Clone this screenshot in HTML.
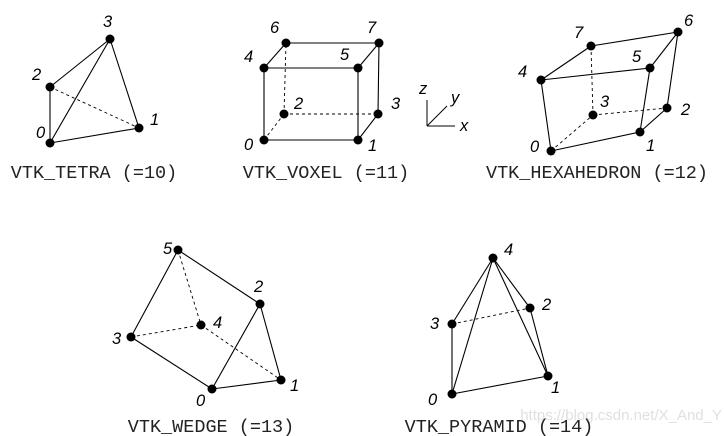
<!DOCTYPE html>
<html><head><meta charset="utf-8"><style>
html,body{margin:0;padding:0;background:#fff;}
svg{display:block;}
.lbl{font-family:"Liberation Sans",sans-serif;font-style:italic;font-size:16.5px;fill:#000;}
.cap{font-family:"Liberation Mono",monospace;font-size:18.5px;fill:#222;}
</style></head><body>
<svg id="s" width="725" height="436" viewBox="0 0 725 436" xmlns="http://www.w3.org/2000/svg">
<g id="axes" stroke="#000" stroke-width="1">
<line x1="427" y1="126" x2="427" y2="100"/><line x1="427" y1="126" x2="447" y2="106"/><line x1="427" y1="126" x2="455" y2="126"/>
</g>
<text class="lbl" x="419" y="94">z</text>
<text class="lbl" x="451" y="103">y</text>
<text class="lbl" x="460" y="131">x</text>
<text x="722" y="420" text-anchor="end" font-family="Liberation Sans,sans-serif" font-size="15" fill="#e0e0e0">https://blog.csdn.net/X_And_Y</text>
</svg>
<script>
const cells=[
 {name:'tetra',cap:'VTK_TETRA (=10)',cx:94,cy:178,
  pts:[[50,143],[139,128],[50,87],[110,39]],
  lab:[[36,138],[150,125],[32,80],[103,27]],
  solid:[[0,1],[0,2],[0,3],[1,3],[2,3]],dash:[[2,1]]},
 {name:'voxel',cap:'VTK_VOXEL (=11)',cx:326,cy:178,
  pts:[[264,140],[358,140],[284,114],[378,114],[264,68],[358,68],[286,43],[379,43]],
  lab:[[244,150],[368,151],[294,109],[391,109],[244,62],[340,60],[270,33],[367,33]],
  solid:[[0,1],[1,3],[0,4],[1,5],[3,7],[4,5],[5,7],[4,6],[6,7]],dash:[[0,2],[2,3],[2,6]]},
 {name:'hexahedron',cap:'VTK_HEXAHEDRON (=12)',cx:597,cy:178,
  pts:[[551,151],[640,132],[667,108],[593,115],[541,80],[650,68],[678,32],[591,46]],
  lab:[[530,152],[646,151],[681,115],[600,107],[518,77],[632,62],[684,26],[574,38]],
  solid:[[0,1],[1,2],[0,4],[1,5],[2,6],[4,5],[5,6],[4,7],[7,6]],dash:[[0,3],[3,2],[3,7]]},
 {name:'wedge',cap:'VTK_WEDGE (=13)',cx:211,cy:432,
  pts:[[212,389],[281,380],[260,304],[131,337],[201,325],[178,250]],
  lab:[[196,406],[290,391],[254,292],[112,344],[213,328],[163,254]],
  solid:[[3,5],[5,2],[3,0],[0,1],[1,2],[0,2]],dash:[[5,4],[3,4],[4,1]]},
 {name:'pyramid',cap:'VTK_PYRAMID (=14)',cx:499,cy:432,
  pts:[[452,394],[548,376],[530,308],[452,324],[493,258]],
  lab:[[428,405],[551,393],[542,310],[430,329],[504,255]],
  solid:[[0,3],[3,4],[0,4],[0,1],[1,4],[2,4],[1,2]],dash:[[3,2]]}
];
const svg=document.getElementById('s');
const NS='http://www.w3.org/2000/svg';
cells.forEach(c=>{
 const g=document.createElementNS(NS,'g');
 
 
 const mk=(pr,dash)=>{const l=document.createElementNS(NS,'line');
  const a=c.pts[pr[0]],b=c.pts[pr[1]];
  l.setAttribute('x1',a[0]);l.setAttribute('y1',a[1]);l.setAttribute('x2',b[0]);l.setAttribute('y2',b[1]);
  l.setAttribute('stroke','#000');l.setAttribute('stroke-width',dash?'0.9':'1.1');
  if(dash)l.setAttribute('stroke-dasharray','3,3');
  
  
  g.appendChild(l);};
 c.dash.forEach(p=>mk(p,true));c.solid.forEach(p=>mk(p,false));
 c.pts.forEach((p,i)=>{const ci=document.createElementNS(NS,'circle');
  ci.setAttribute('cx',p[0]);ci.setAttribute('cy',p[1]);ci.setAttribute('r','4.5');ci.setAttribute('fill','#000');
  
  
  g.appendChild(ci);
  const t=document.createElementNS(NS,'text');
  t.setAttribute('x',c.lab[i][0]);t.setAttribute('y',c.lab[i][1]);t.setAttribute('class','lbl');t.textContent=String(i);
  
  
  g.appendChild(t);});
 const cap=document.createElementNS(NS,'text');
 cap.setAttribute('x',c.cx);cap.setAttribute('y',c.cy);cap.setAttribute('text-anchor','middle');cap.setAttribute('class','cap');
 cap.textContent=c.cap;
 
 
 g.appendChild(cap);
 svg.appendChild(g);
});
</script>
</body></html>
